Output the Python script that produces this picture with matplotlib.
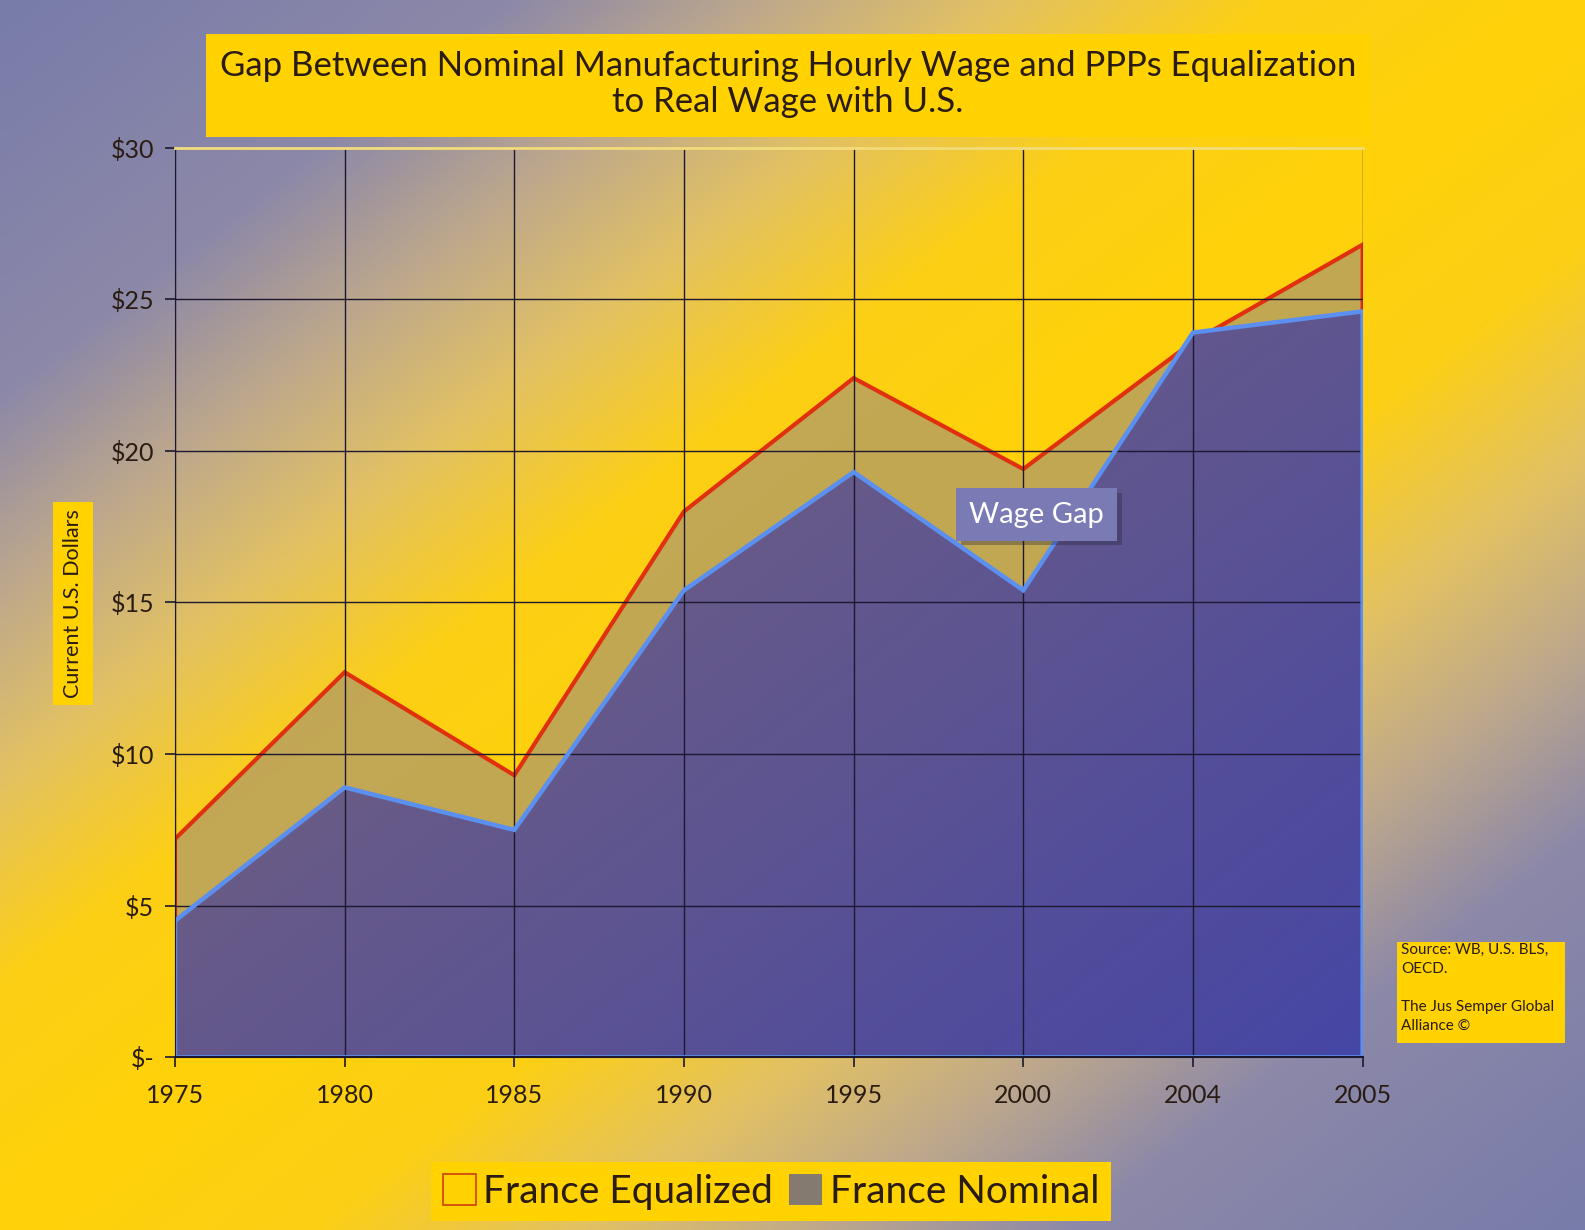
import numpy as np
import matplotlib.pyplot as plt
from matplotlib.patches import Patch, Rectangle, Polygon
from matplotlib import patheffects as pe

plt.rcParams['font.family'] = ['Lato', 'DejaVu Sans']

# data
years = ['1975', '1980', '1985', '1990', '1995', '2000', '2004', '2005']
equalized = [7.2, 12.7, 9.3, 18.0, 22.4, 19.4, 23.6, 26.8]
nominal = [4.5, 8.9, 7.5, 15.4, 19.3, 15.4, 23.9, 24.6]
ytick_vals = [0, 5, 10, 15, 20, 25, 30]
ytick_labels = ['$-', '$5', '$10', '$15', '$20', '$25', '$30']

title = 'Gap Between Nominal Manufacturing Hourly Wage and PPPs Equalization\nto Real Wage with U.S.'
source_txt = 'Source: WB, U.S. BLS,\nOECD.\n\nThe Jus Semper Global\nAlliance \u00a9'

TXT = '#2a1c12'
YEL = '#ffd200'

fig = plt.figure(figsize=(15.85, 12.3), dpi=100)

# background: purple corners top-left / bottom-right, yellow across the middle diagonal
bg = fig.add_axes([0, 0, 1, 1], zorder=-10)
H, W = 246, 317
u = np.linspace(0, 1, W)[None, :]
w = np.linspace(0, 1, H)[:, None]
d = np.abs(u + w - 1)
stops = [0.0, 0.2, 0.37, 0.52, 0.68, 1.0]
cols = np.array([[255, 210, 10], [252, 207, 22], [226, 193, 100],
                 [190, 168, 140], [140, 136, 168], [120, 124, 170]]) / 255
img = np.dstack([np.interp(d, stops, cols[:, k]) for k in range(3)])
bg.imshow(img, aspect='auto', extent=[0, 1, 0, 1], interpolation='bilinear')
bg.set_axis_off()

ax = fig.add_axes([0.1104, 0.1404, 0.7493, 0.7396])
ax.set_facecolor('none')
x = np.arange(len(years))

# equalized area (gap shows above nominal)
ax.fill_between(x, 0, equalized, facecolor='#b8a060', alpha=0.85, zorder=1, lw=0)
eq_poly = Polygon(np.column_stack([np.r_[x[0], x, x[-1]], np.r_[0, equalized, 0]]),
                  closed=True, fill=False, edgecolor='#e0300c', lw=3, zorder=1.5)
ax.add_patch(eq_poly)

# nominal area with gradient fill
nom_xy = np.column_stack([np.r_[x[0], x, x[-1]], np.r_[0, nominal, 0]])
nom_poly = Polygon(nom_xy, closed=True, facecolor='none', edgecolor='none', zorder=2)
ax.add_patch(nom_poly)
gu = np.linspace(0, 1, 200)[None, :]
gv = np.linspace(0, 1, 200)[:, None]
s = np.clip((gu + gv - 0.8) / 1.2, 0, 1)
c1 = np.array([106, 92, 134]) / 255
c2 = np.array([70, 70, 165]) / 255
gimg = np.dstack([c1[k] + (c2[k] - c1[k]) * s for k in range(3)])
im = ax.imshow(gimg, extent=[x[0], x[-1], 0, 30], aspect='auto', zorder=2,
               interpolation='bilinear')
im.set_clip_path(nom_poly)
ax.add_patch(Polygon(nom_xy, closed=True, fill=False, edgecolor='#5b8ff0', lw=3.2, zorder=3.5))

# grid
for xi in x:
    ax.axvline(xi, color='#1c1830', lw=1.0, zorder=3)
for yv in ytick_vals[1:-1]:
    ax.axhline(yv, color='#1c1830', lw=1.0, zorder=3)

ax.set_xlim(x[0], x[-1])
ax.set_ylim(0, 30)
ax.set_xticks(x)
ax.set_xticklabels(years)
ax.set_yticks(ytick_vals)
ax.set_yticklabels(ytick_labels)
ax.tick_params(axis='both', labelsize=18, labelcolor=TXT, color='#1c1830',
               length=7, width=1.2, direction='out')
ax.tick_params(axis='x', pad=12)
ax.tick_params(axis='y', pad=8)
ax.spines['top'].set_color('#f2dc7a')
ax.spines['top'].set_linewidth(2)
ax.spines['right'].set_visible(False)
ax.spines['left'].set_color('#1c1830')
ax.spines['bottom'].set_color('#1c1830')
ax.spines['bottom'].set_linewidth(1.5)
for sp in ax.spines.values():
    sp.set_zorder(4)

# wage gap callout
t = ax.text(5.08, 17.9, 'Wage Gap', fontsize=21, color='white', ha='center', va='center',
            zorder=6, bbox=dict(boxstyle='square,pad=0.45', facecolor='#7a7ab4', edgecolor='none'))
t.get_bbox_patch().set_path_effects([pe.withSimplePatchShadow(offset=(3, -3), alpha=0.35)])

# title box
fig.patches.append(Rectangle((0.130, 0.8886), 0.7344, 0.0837, transform=fig.transFigure,
                             facecolor=YEL, edgecolor='none', zorder=1))
fig.text(0.497, 0.932, title, ha='center', va='center', fontsize=25, color=TXT,
         linespacing=1.15, zorder=2)

# y label box
fig.patches.append(Rectangle((0.0334, 0.4268), 0.0252, 0.165, transform=fig.transFigure,
                             facecolor=YEL, edgecolor='none', zorder=1))
fig.text(0.046, 0.5093, 'Current U.S. Dollars', rotation=90, ha='center', va='center',
         fontsize=15.5, color=TXT, zorder=2)

# source box
fig.patches.append(Rectangle((0.8814, 0.152), 0.106, 0.0821, transform=fig.transFigure,
                             facecolor=YEL, edgecolor='none', zorder=1))
fig.text(0.884, 0.2335, source_txt, ha='left', va='top', fontsize=11, color=TXT,
         linespacing=1.45, zorder=2)

# legend
handles = [Patch(facecolor='none', edgecolor='#d04010', lw=1.2),
           Patch(facecolor='#857a70', edgecolor='none')]
leg = fig.legend(handles, ['France Equalized', 'France Nominal'], ncol=2,
                 loc='center', bbox_to_anchor=(0.4864, 0.0313), fontsize=28,
                 frameon=True, fancybox=False, handlelength=0.85, handleheight=0.85,
                 handletextpad=0.2, columnspacing=0.4, borderpad=0.3, borderaxespad=0)
leg.get_frame().set_facecolor(YEL)
leg.get_frame().set_edgecolor('none')
leg.get_frame().set_alpha(1)
for txt in leg.get_texts():
    txt.set_color(TXT)

fig.savefig('out.png', dpi=100)
